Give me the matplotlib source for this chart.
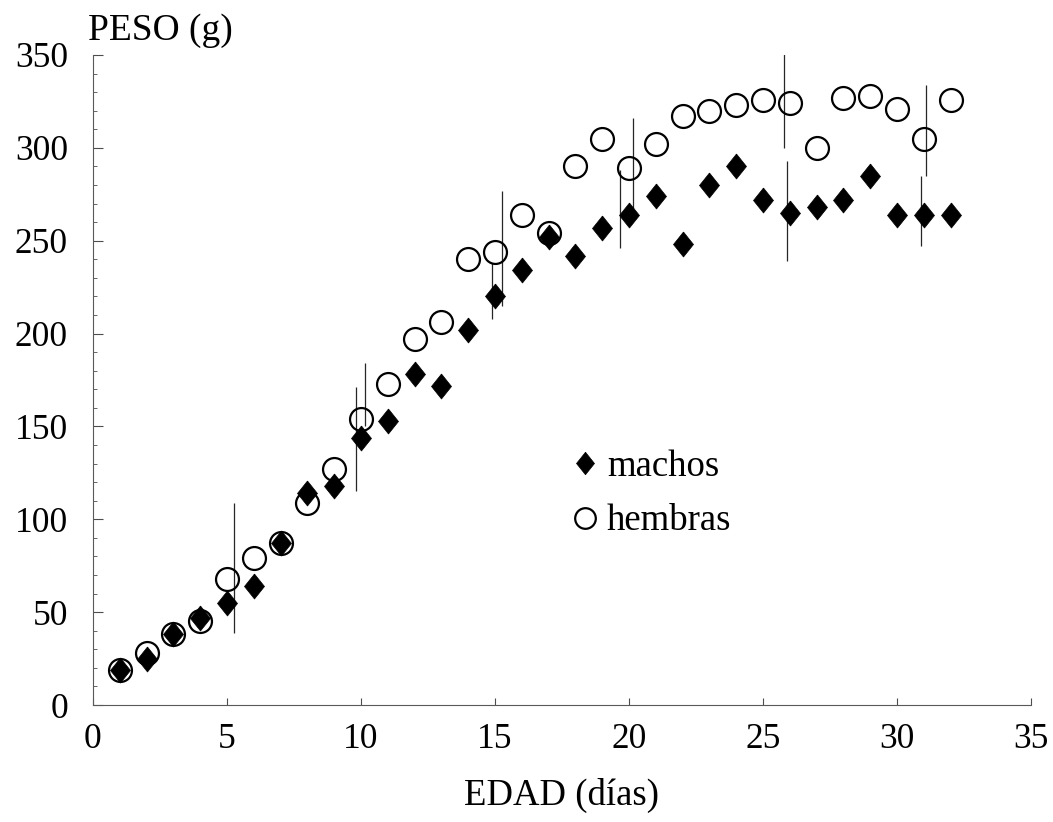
import numpy as np
import matplotlib.pyplot as plt

plt.rcParams['font.family'] = ['Liberation Serif', 'DejaVu Serif']

edad = np.arange(1, 33)
machos = [19, 25, 38, 47, 55, 64, 87, 114, 118, 144, 153, 178, 172, 202, 220, 234,
          252, 242, 257, 264, 274, 248, 280, 290, 272, 265, 268, 272, 285, 264, 264, 264]
hembras = [19, 28, 38, 45, 68, 79, 87, 109, 127, 154, 173, 197, 206, 240, 244, 264,
           254, 290, 305, 289, 302, 317, 320, 323, 326, 324, 300, 327, 328, 321, 305, 326]

# vertical error lines as they appear in the figure (x, lower, upper)
err_x = [5.26, 9.81, 10.15, 14.9, 15.26, 19.67, 20.15, 25.8, 25.9, 30.9, 31.1]
err_lo = [39, 115, 150, 208, 215, 246, 266, 300, 239, 247, 285]
err_hi = [109, 171, 184, 238, 277, 288, 316, 354, 293, 285, 334]

fig = plt.figure(figsize=(10.53, 8.22), dpi=100)
ax = fig.add_axes([0.0883, 0.1423, 0.8908, 0.7908])

ax.vlines(err_x, err_lo, err_hi, color='0.15', lw=0.9)

diamond = [(0, 1), (0.8, 0), (0, -1), (-0.8, 0), (0, 1)]
ax.plot(edad, hembras, ls='none', marker='o', ms=16.5, mfc='none', mec='black',
        mew=1.6, label='hembras', zorder=3)
ax.plot(edad, machos, ls='none', marker=diamond, ms=18, mfc='black', mec='black',
        mew=0.5, label='machos', zorder=4)

ax.set_xlim(0, 35)
ax.set_ylim(0, 350)
ax.set_xticks(np.arange(0, 36, 5))
ax.set_yticks(np.arange(0, 351, 50))
ax.set_yticks(np.arange(0, 351, 10), minor=True)
ax.tick_params(axis='both', which='major', direction='in', labelsize=25.5, color='0.3', width=0.8)
ax.tick_params(axis='y', which='major', length=7, pad=18)
ax.tick_params(axis='x', which='major', length=5, pad=13)
ax.tick_params(axis='y', which='minor', direction='in', length=3, color='0.4', width=0.7)

for s in ['top', 'right']:
    ax.spines[s].set_visible(False)
for s in ['left', 'bottom']:
    ax.spines[s].set_color('0.35')
    ax.spines[s].set_linewidth(0.8)

ax.set_xlabel('EDAD (días)', fontsize=26.5, labelpad=16)
ax.set_ylabel('PESO (g)', fontsize=27, rotation=0, ha='left', va='center')
ax.yaxis.set_label_coords(-0.005, 1.038)

h, l = ax.get_legend_handles_labels()
ax.legend(h[::-1], l[::-1], loc='center left', bbox_to_anchor=(0.473, 0.325),
          frameon=False, fontsize=26.5, handlelength=0.8, handletextpad=0.21,
          labelspacing=0.55, markerscale=0.9, borderpad=0.4)

fig.savefig('out.png', dpi=100)
